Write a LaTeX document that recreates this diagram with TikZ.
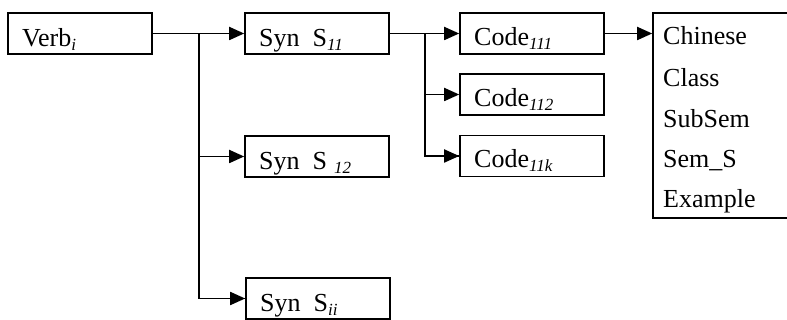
\documentclass[tikz,border=0pt]{standalone}
\usepackage{fontspec}
\setmainfont{Liberation Serif}
\usetikzlibrary{arrows.meta}
\newcommand\subx[1]{\raisebox{-4pt}{\fontsize{17pt}{17pt}\selectfont\itshape #1}}
\newcommand\bigfnt{\fontsize{26pt}{30pt}\selectfont}
\begin{document}
\begin{tikzpicture}[x=1pt,y=-1pt,
  boxnode/.style={draw,line width=1.6pt,minimum width=144pt,minimum height=41pt,inner sep=0pt},
  lbl/.style={anchor=base west,inner sep=0pt,font=\bigfnt},
  conn/.style={line width=1.8pt},
  arr/.style={conn,-{Triangle[length=15pt,width=13pt]}}]
\useasboundingbox (0,0) rectangle (787,320);
\node[boxnode] (verb) at (80,33.5) {};
\node[boxnode] (s11) at (317,33.5) {};
\node[boxnode] (s12) at (317,156.5) {};
\node[boxnode] (sii) at (318,298.5) {};
\node[boxnode] (c111) at (532,33.5) {};
\node[boxnode] (c112) at (532,94.5) {};
\node[boxnode] (c11k) at (532,156) {};
\node[draw,line width=1.6pt,minimum width=136pt,minimum height=205pt,inner sep=0pt] (big) at (721,115.5) {};
\node[lbl] (tverb) at (22,47) {Verb\subx{i}};
\node[lbl] (ts11) at (259,47) {Syn\ \ S\subx{11}};
\node[lbl] (ts12) at (259,170) {Syn\ \ S\hspace{7pt}\subx{12}};
\node[lbl] (tsii) at (260,312) {Syn\ \ S\subx{ii}};
\node[lbl] (tc111) at (474,46) {Code\subx{111}};
\node[lbl] (tc112) at (474,107) {Code\subx{112}};
\node[lbl] (tc11k) at (474,168) {Code\subx{11k}};
\node[lbl] (a1) at (663,45) {Chinese};
\node[lbl] (a2) at (663,87) {Class};
\node[lbl] (a3) at (663,128) {SubSem};
\node[lbl] (a4) at (663,168) {Sem\_S};
\node[lbl] (a5) at (663,208) {Example};
\coordinate (b1) at (199,33.5);
\coordinate (b2) at (425,33.5);
\draw[arr] (verb.east) -- (s11.west);
\draw[conn] (b1) |- (sii.west);
\draw[arr] (b1 |- s12.west) -- (s12.west);
\draw[arr] (b1 |- sii.west) -- (sii.west);
\draw[arr] (s11.east) -- (c111.west);
\draw[conn] (b2) |- (c11k.west);
\draw[arr] (b2 |- c112.west) -- (c112.west);
\draw[arr] (b2 |- c11k.west) -- (c11k.west);
\draw[arr] (c111.east) -- (c111.east -| big.west);
\end{tikzpicture}
\end{document}
